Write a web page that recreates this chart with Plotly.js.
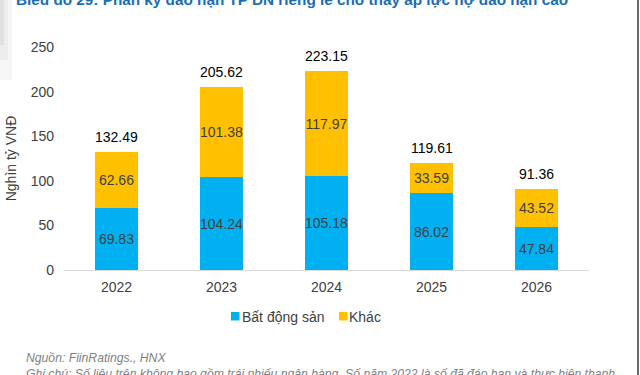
<!DOCTYPE html>
<html>
<head>
<meta charset="utf-8">
<script src="https://cdn.plot.ly/plotly-3.0.1.min.js"></script>
<style>
html,body{margin:0;padding:0;background:#fff;}
#chart{width:640px;height:375px;}
</style>
</head>
<body>
<div id="chart"></div>
<script>
// ---- data ----
const years = ['2022', '2023', '2024', '2025', '2026'];
const batDongSan = [69.83, 104.24, 105.18, 86.02, 47.84];
const khac = [62.66, 101.38, 117.97, 33.59, 43.52];
const totals = [132.49, 205.62, 223.15, 119.61, 91.36];
const seriesNames = ['Bất động sản', 'Khác'];
const seriesColors = ['#00B0F0', '#FFC000'];
const yTicks = [0, 50, 100, 150, 200, 250];
const titleText = 'Biểu đồ 29: Phân kỳ đáo hạn TP DN riêng lẻ cho thấy áp lực nợ đáo hạn cao';
const sourceText = 'Nguồn: FiinRatings., HNX';
const noteText = 'Ghi chú: Số liệu trên không bao gồm trái phiếu ngân hàng. Số năm 2022 là số đã đáo hạn và thực hiện thanh';

// ---- layout constants (pixels) ----
const W = 640, H = 375;
const M = {l: 64, r: 51, t: 47, b: 105};
const plotW = W - M.l - M.r, plotH = H - M.t - M.b;
const px = x => (x - M.l) / plotW;
const py = y => (H - M.b - y) / plotH;

const FONT = 'Arial, "Liberation Sans", sans-serif';

const inside = {
  texttemplate: '%{y:.2f}',
  textposition: 'inside',
  insidetextanchor: 'middle',
  constraintext: 'none',
  textangle: 0,
  textfont: {family: FONT, size: 14, color: '#404040'},
  hoverinfo: 'skip',
  showlegend: false
};

const traces = [
  Object.assign({type: 'bar', name: seriesNames[0], x: years, y: batDongSan,
    marker: {color: seriesColors[0]}}, inside),
  Object.assign({type: 'bar', name: seriesNames[1], x: years, y: khac,
    marker: {color: seriesColors[1]}}, inside)
];

const annotations = years.map((yr, i) => ({
  x: i, y: totals[i], xref: 'x', yref: 'y',
  text: totals[i].toFixed(2), showarrow: false,
  yanchor: 'bottom', yshift: 5,
  font: {family: FONT, size: 14, color: '#000000'}
}));

annotations.push({
  xref: 'paper', yref: 'paper', x: px(14), y: py(-0.5),
  xanchor: 'left', yanchor: 'middle', showarrow: false,
  text: '<b>' + titleText + '</b>',
  font: {family: FONT, size: 15.3, color: '#1a6db5'}
});
annotations.push({
  xref: 'paper', yref: 'paper', x: px(24), y: py(358),
  xanchor: 'left', yanchor: 'middle', showarrow: false,
  text: '<i>' + sourceText + '</i>',
  font: {family: FONT, size: 12.2, color: '#7f7f7f'}
});
annotations.push({
  xref: 'paper', yref: 'paper', x: px(24), y: py(374),
  xanchor: 'left', yanchor: 'middle', showarrow: false,
  text: '<i>' + noteText + '</i>',
  font: {family: FONT, size: 12.2, color: '#7f7f7f'}
});

// legend (drawn as text + colour keys)
const legendX = [240, 347];
const legendKeyX = [231, 339];
seriesNames.forEach((nm, i) => {
  annotations.push({
    xref: 'paper', yref: 'paper', x: px(legendX[i]), y: py(316.5),
    xanchor: 'left', yanchor: 'middle', showarrow: false,
    text: nm, font: {family: FONT, size: 14, color: '#404040'}
  });
});

const shapes = [
  {type: 'line', xref: 'paper', yref: 'paper', x0: px(638), x1: px(638), y0: py(0), y1: py(375),
   line: {color: '#3a3a3a', width: 1.5}},
  {type: 'rect', xref: 'paper', yref: 'paper', x0: px(0), x1: px(12), y0: py(0), y1: py(80),
   fillcolor: '#000', opacity: 0.03, line: {width: 0}},
  {type: 'rect', xref: 'paper', yref: 'paper', x0: px(0), x1: px(8), y0: py(0), y1: py(60),
   fillcolor: '#000', opacity: 0.04, line: {width: 0}},
  {type: 'rect', xref: 'paper', yref: 'paper', x0: px(0), x1: px(4), y0: py(0), y1: py(45),
   fillcolor: '#000', opacity: 0.05, line: {width: 0}}
];
seriesColors.forEach((c, i) => {
  shapes.push({type: 'rect', xref: 'paper', yref: 'paper',
    x0: px(legendKeyX[i]), x1: px(legendKeyX[i] + 8.5), y0: py(312), y1: py(320.5),
    fillcolor: c, line: {width: 0}});
});

const layout = {
  width: W, height: H,
  margin: {l: M.l, r: M.r, t: M.t, b: M.b, pad: 0},
  paper_bgcolor: '#ffffff', plot_bgcolor: '#ffffff',
  barmode: 'stack', bargap: 0.59,
  font: {family: FONT, size: 14, color: '#404040'},
  showlegend: false,
  xaxis: {type: 'category', range: [-0.5, 4.5], showgrid: false, zeroline: false,
    showline: true, linecolor: '#d9d9d9', linewidth: 1,
    ticks: '', ticklabelstandoff: 4,
    tickfont: {family: FONT, size: 14, color: '#404040'}, fixedrange: true},
  yaxis: {range: [0, 250], tickvals: yTicks, showgrid: false, zeroline: false,
    showline: false, ticks: '', ticklabelstandoff: 9,
    tickfont: {family: FONT, size: 14, color: '#404040'},
    title: {text: 'Nghìn tỷ VNĐ', standoff: 10, font: {family: FONT, size: 14, color: '#404040'}},
    fixedrange: true},
  annotations: annotations,
  shapes: shapes
};

Plotly.newPlot('chart', traces, layout, {displayModeBar: false, staticPlot: true});
</script>
</body>
</html>
